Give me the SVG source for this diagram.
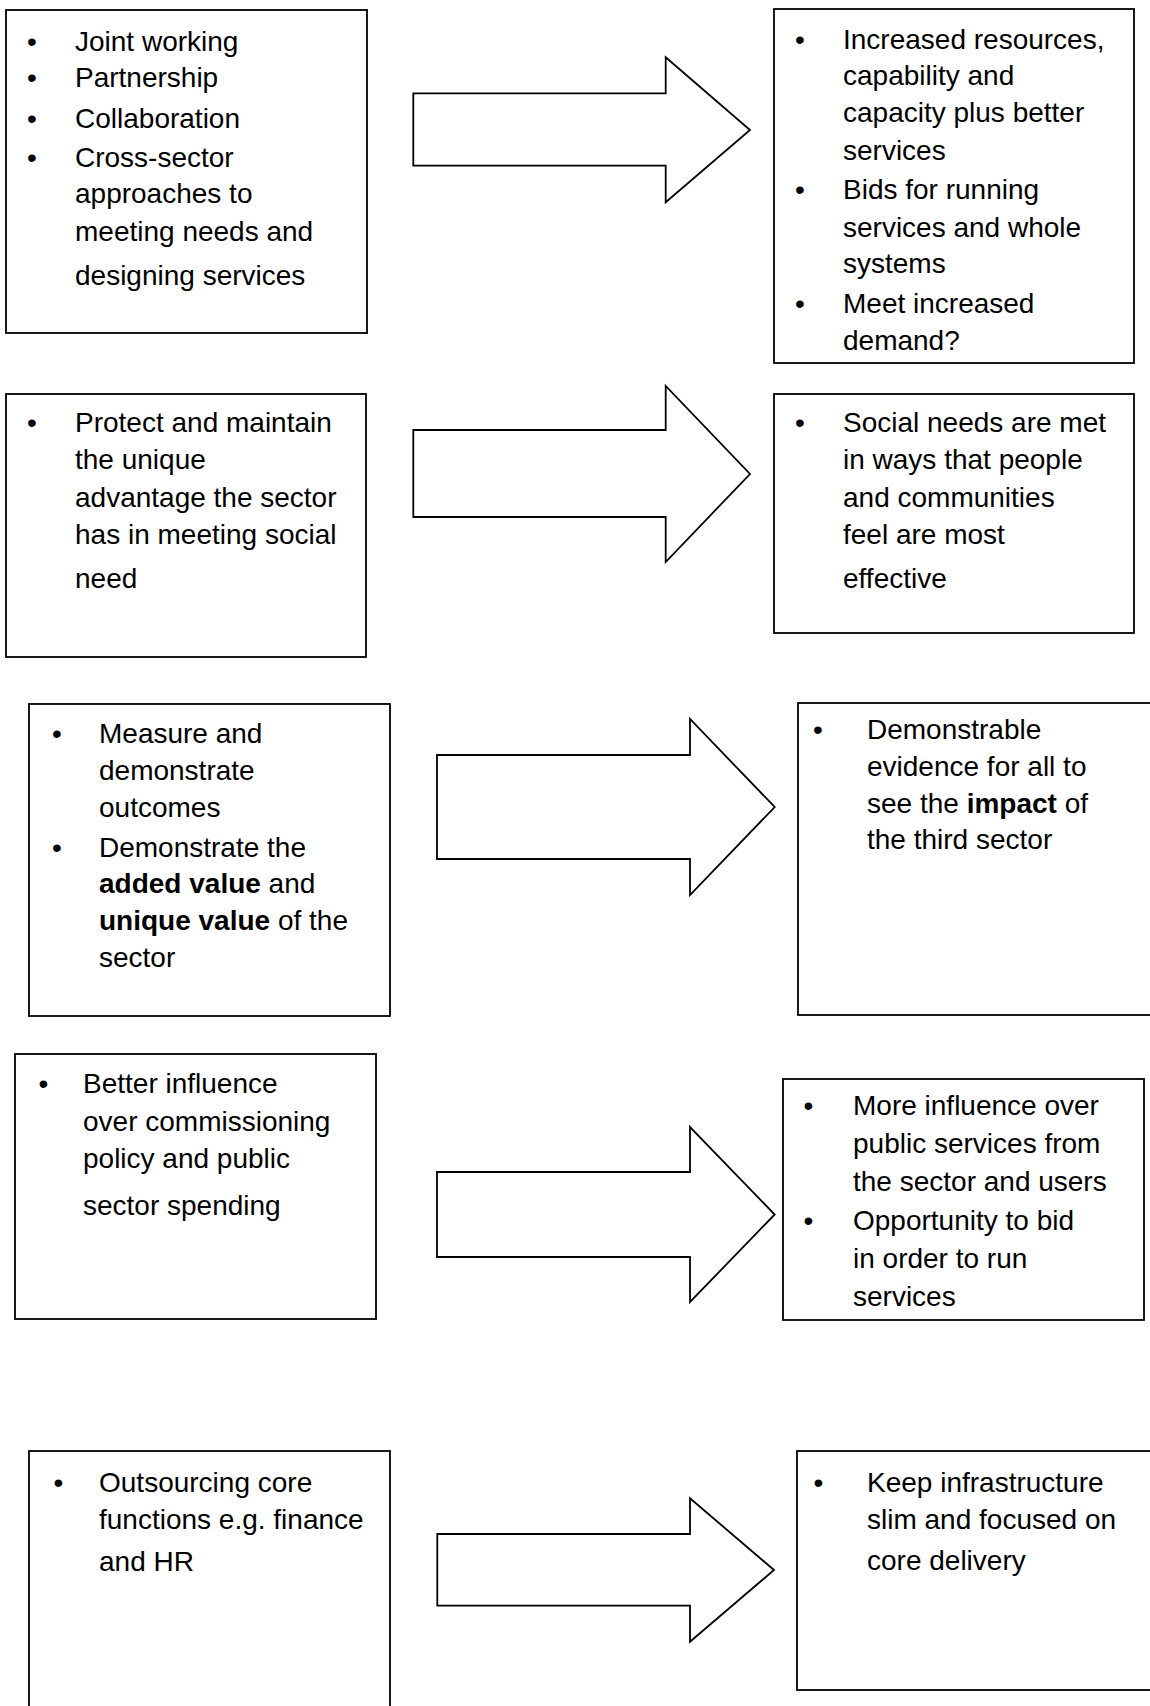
<svg xmlns="http://www.w3.org/2000/svg" width="1150" height="1706" viewBox="0 0 1150 1706">
<style>
.box{fill:#fff;stroke:#000;stroke-width:1.8}
.arrow{fill:#fff;stroke:#000;stroke-width:1.8;stroke-linejoin:miter}
text{font-family:"Liberation Sans",Arial,sans-serif;font-size:28px;fill:#000}
.b{font-weight:bold}
</style>
<rect width="1150" height="1706" fill="#fff"/>
<g id="connectors">
<path id="arrow1" class="arrow" d="M413.3,93.3 H665.7 V57.3 L750,130 L665.7,202.3 V165.7 H413.3 Z"/>
<path id="arrow2" class="arrow" d="M413.3,430 H665.7 V386 L750,474 L665.7,562 V517 H413.3 Z"/>
<path id="arrow3" class="arrow" d="M437,755 H690 V719 L774.7,807 L690,895 V859 H437 Z"/>
<path id="arrow4" class="arrow" d="M437,1172 H690 V1127 L774.7,1214.5 L690,1302 V1257 H437 Z"/>
<path id="arrow5" class="arrow" d="M437.3,1534 H690 V1498.3 L774,1570 L690,1641.7 V1605.7 H437.3 Z"/>
</g>
<g id="node-l1">
<rect class="box" x="6" y="10" width="361" height="323"/>
<text x="27" y="50.5">•</text><text x="75" y="50.5">Joint working</text>
<text x="27" y="87.3">•</text><text x="75" y="87.3">Partnership</text>
<text x="27" y="127.7">•</text><text x="75" y="127.7">Collaboration</text>
<text x="27" y="166.7">•</text><text x="75" y="166.7">Cross-sector</text>
<text x="75" y="202.7">approaches to</text>
<text x="75" y="240.7">meeting needs and</text>
<text x="75" y="285">designing services</text>
</g>
<g id="node-r1">
<rect class="box" x="774" y="9" width="360" height="354"/>
<text x="795" y="49">•</text><text x="843" y="49">Increased resources,</text>
<text x="843" y="85">capability and</text>
<text x="843" y="121.7">capacity plus better</text>
<text x="843" y="159.5">services</text>
<text x="795" y="198.5">•</text><text x="843" y="198.5">Bids for running</text>
<text x="843" y="236.5">services and whole</text>
<text x="843" y="273">systems</text>
<text x="795" y="313">•</text><text x="843" y="313">Meet increased</text>
<text x="843" y="349.5">demand?</text>
</g>
<g id="node-l2">
<rect class="box" x="6" y="394" width="360" height="263"/>
<text x="27" y="431.7">•</text><text x="75" y="431.7">Protect and maintain</text>
<text x="75" y="469">the unique</text>
<text x="75" y="506.7">advantage the sector</text>
<text x="75" y="543.8">has in meeting social</text>
<text x="75" y="588.3">need</text>
</g>
<g id="node-r2">
<rect class="box" x="774" y="394" width="360" height="239"/>
<text x="795" y="431.7">•</text><text x="843" y="431.7">Social needs are met</text>
<text x="843" y="469.3">in ways that people</text>
<text x="843" y="506.7">and communities</text>
<text x="843" y="543.8">feel are most</text>
<text x="843" y="588.3">effective</text>
</g>
<g id="node-l3">
<rect class="box" x="29" y="704" width="361" height="312"/>
<text x="52" y="742.7">•</text><text x="99" y="742.7">Measure and</text>
<text x="99" y="780">demonstrate</text>
<text x="99" y="816.7">outcomes</text>
<text x="52" y="856.7">•</text><text x="99" y="856.7">Demonstrate the</text>
<text x="99" y="892.7"><tspan class="b">added value</tspan> and</text>
<text x="99" y="930"><tspan class="b">unique value</tspan> of the</text>
<text x="99" y="966.7">sector</text>
</g>
<g id="node-r3">
<rect class="box" x="798" y="703" width="362" height="312"/>
<text x="813" y="739">•</text><text x="867" y="739">Demonstrable</text>
<text x="867" y="776">evidence for all to</text>
<text x="867" y="812.5">see the <tspan class="b">impact</tspan> of</text>
<text x="867" y="849">the third sector</text>
</g>
<g id="node-l4">
<rect class="box" x="15" y="1054" width="361" height="265"/>
<text x="38.5" y="1093">•</text><text x="83" y="1093">Better influence</text>
<text x="83" y="1130.7">over commissioning</text>
<text x="83" y="1168.3">policy and public</text>
<text x="83" y="1215">sector spending</text>
</g>
<g id="node-r4">
<rect class="box" x="783" y="1079" width="361" height="241"/>
<text x="803.5" y="1115">•</text><text x="853" y="1115">More influence over</text>
<text x="853" y="1153">public services from</text>
<text x="853" y="1191">the sector and users</text>
<text x="803.5" y="1229.5">•</text><text x="853" y="1229.5">Opportunity to bid</text>
<text x="853" y="1267.5">in order to run</text>
<text x="853" y="1305.5">services</text>
</g>
<g id="node-l5">
<rect class="box" x="29" y="1451" width="361" height="280"/>
<text x="53.5" y="1492">•</text><text x="99" y="1492">Outsourcing core</text>
<text x="99" y="1529">functions e.g. finance</text>
<text x="99" y="1571">and HR</text>
</g>
<g id="node-r5">
<rect class="box" x="797" y="1451" width="362" height="239"/>
<text x="813.5" y="1492">•</text><text x="867" y="1492">Keep infrastructure</text>
<text x="867" y="1529">slim and focused on</text>
<text x="867" y="1570">core delivery</text>
</g>
</svg>
